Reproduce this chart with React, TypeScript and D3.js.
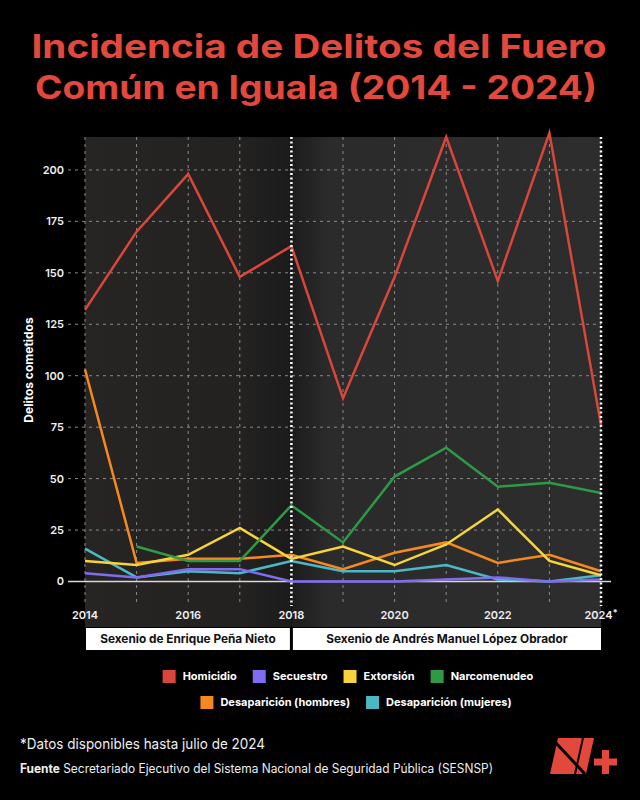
import * as d3 from 'd3';

// años y series
const years = [2014, 2015, 2016, 2017, 2018, 2019, 2020, 2021, 2022, 2023, 2024];
const homicidio = [132, 170, 198, 148, 163, 89, 148, 216, 146, 218, 76];
const secuestro = [4, 2, 6, 6, 0, 0, 0, 1, 2, 0, 1];
const extorsion = [10, 8, 13, 26, 11, 17, 8, 18, 35, 10, 3];
const narcomenudeo = [null, 17, 10, 10, 37, 19, 51, 65, 46, 48, 43];
const desapHombres = [103, 9, 11, 11, 13, 6, 14, 19, 9, 13, 5];
const desapMujeres = [16, 2, 5, 4, 10, 5, 5, 8, 1, 0, 3];

const seriesNames = ['Homicidio', 'Secuestro', 'Extorsión', 'Narcomenudeo', 'Desaparición (hombres)', 'Desaparición (mujeres)'];
const seriesColors = ['#d9473a', '#7f6cf0', '#f7d43a', '#2f9a46', '#f5891f', '#4bb8c6'];
const seriesValues = [homicidio, secuestro, extorsion, narcomenudeo, desapHombres, desapMujeres];
const drawOrder = [5, 1, 4, 2, 3, 0];

const yTicks = [0, 25, 50, 75, 100, 125, 150, 175, 200];
const xTickYears = [2014, 2016, 2018, 2020, 2022, 2024];
const xTickLabels = ['2014', '2016', '2018', '2020', '2022', '2024*'];
const sexenios = [
    { label: 'Sexenio de Enrique Peña Nieto', from: 2014, to: 2018 },
    { label: 'Sexenio de Andrés Manuel López Obrador', from: 2018, to: 2024 }
];
const legendRows = [[0, 1, 2, 3], [4, 5]];

const W = 640;
const H = 800;
const FONT = 'Inter, "Noto Sans", sans-serif';

function measure(text: string, font: string) {
    const ctx = document.createElement('canvas').getContext('2d');
    if (!ctx) return text.length * 6.5;
    ctx.font = font;
    return ctx.measureText(text).width;
}

export default function App() {
    const x = d3.scaleLinear().domain([2014, 2024]).range([85, 601]);
    const y = d3.scaleLinear().domain([0, 216]).range([581.5, 137]);

    const line = d3.line<number | null>()
        .defined(v => v != null)
        .x((_, i) => x(years[i]))
        .y(v => y(v as number));

    const plotTop = y(216);
    const plotBottom = 627;
    const gridBottom = 606;

    // leyenda: medir textos para espaciar como en el original
    const sq = 13;
    const gap = 7;
    const itemGap = 16;
    const legendFont = `700 11px ${FONT}`;
    const legendCenters = [348, 356];
    const legendY = [676.5, 702.5];
    const legendItems = legendRows.map((row, r) => {
        const widths = row.map(i => sq + gap + measure(seriesNames[i], legendFont));
        const total = d3.sum(widths) + itemGap * (row.length - 1);
        let cx = legendCenters[r] - total / 2;
        return row.map((i, k) => {
            const item = { i, x: cx, y: legendY[r] };
            cx += widths[k] + itemGap;
            return item;
        });
    }).flat();

    return (
        <svg width={W} height={H} style={{ position: 'absolute', left: 0, top: 0, background: '#000', fontFamily: FONT }}>
            <defs>
                <linearGradient id="bgLeft" x1="0" x2="1" y1="0" y2="0">
                    <stop offset="0" stopColor="#272523" />
                    <stop offset="0.75" stopColor="#232221" />
                    <stop offset="1" stopColor="#1b1b1b" />
                </linearGradient>
                <linearGradient id="bgRight" x1="0" x2="1" y1="0" y2="0">
                    <stop offset="0" stopColor="#1c1c1c" />
                    <stop offset="0.12" stopColor="#2b2b2b" />
                    <stop offset="1" stopColor="#2d2d2d" />
                </linearGradient>
            </defs>
            <rect width={W} height={H} fill="#000" />

            {/* título */}
            <text x={319} y={58} textAnchor="middle" fill="#e2483b" fontSize={33} fontWeight={700}
                textLength={575} lengthAdjust="spacingAndGlyphs">Incidencia de Delitos del Fuero</text>
            <text x={316} y={99} textAnchor="middle" fill="#e2483b" fontSize={33} fontWeight={700}
                textLength={562} lengthAdjust="spacingAndGlyphs">Común en Iguala (2014 - 2024)</text>

            {/* fondo del área de trazado */}
            <rect x={x(2014)} y={plotTop} width={x(2018) - x(2014)} height={plotBottom - plotTop} fill="url(#bgLeft)" />
            <rect x={x(2018)} y={plotTop} width={x(2024) - x(2018)} height={plotBottom - plotTop} fill="url(#bgRight)" />

            {/* rejilla horizontal */}
            {yTicks.filter(t => t > 0).map(t => (
                <line key={'h' + t} x1={68} x2={x(2024)} y1={y(t)} y2={y(t)}
                    stroke="#8a8a8a" strokeWidth={1} strokeDasharray="3,4" />
            ))}
            {/* rejilla vertical */}
            {years.filter(yr => yr !== 2018 && yr !== 2024).map(yr => (
                <line key={'v' + yr} x1={x(yr)} x2={x(yr)} y1={plotTop} y2={gridBottom}
                    stroke="#8a8a8a" strokeWidth={1} strokeDasharray="3,4" />
            ))}

            {/* línea base */}
            <line x1={68} x2={611} y1={y(0)} y2={y(0)} stroke="#d8d8d8" strokeWidth={1.5} />

            {/* etiquetas del eje y */}
            {yTicks.map(t => (
                <text key={'yt' + t} x={64} y={y(t)} dy="0.36em" textAnchor="end" fill="#f0f0f0"
                    fontSize={11} fontWeight={600}>{t}</text>
            ))}
            <text transform={`translate(33,370) rotate(-90)`} textAnchor="middle" fill="#fff"
                fontSize={12} fontWeight={700}>Delitos cometidos</text>

            {/* etiquetas del eje x */}
            {xTickYears.map((yr, i) => (
                <text key={'xt' + yr} x={x(yr)} y={619} textAnchor="middle" fill="#f0f0f0"
                    fontSize={11} fontWeight={600}>
                    {xTickLabels[i].replace('*', '')}
                    {xTickLabels[i].endsWith('*') ? <tspan dy={-3} fontSize={9}>*</tspan> : null}
                </text>
            ))}

            {/* series */}
            {drawOrder.map(i => (
                <path key={seriesNames[i]} d={line(seriesValues[i]) || ''} fill="none"
                    stroke={seriesColors[i]} strokeWidth={2.5} />
            ))}

            {/* divisiones de sexenio */}
            {[2018, 2024].map(yr => (
                <line key={'d' + yr} x1={x(yr)} x2={x(yr)} y1={plotTop} y2={gridBottom}
                    stroke="#fff" strokeWidth={2.5} strokeDasharray="2,2.5" />
            ))}

            {/* cajas de sexenio */}
            {sexenios.map((s, i) => {
                const x0 = x(s.from) + (i === 0 ? 1 : 1.5);
                const x1 = x(s.to) - (i === 0 ? 1.5 : 0);
                return (
                    <g key={s.label}>
                        <rect x={x0} y={628} width={x1 - x0} height={22} fill="#fff" />
                        <text x={(x0 + x1) / 2} y={639} dy="0.36em" textAnchor="middle" fill="#111"
                            fontSize={11.8} fontWeight={700}>{s.label}</text>
                    </g>
                );
            })}

            {/* leyenda */}
            {legendItems.map(it => (
                <g key={'lg' + it.i} transform={`translate(${it.x},${it.y})`}>
                    <rect x={0} y={-sq / 2} width={sq} height={sq} fill={seriesColors[it.i]} />
                    <text x={sq + gap} y={0} dy="0.36em" fill="#fff" fontSize={11} fontWeight={700}>
                        {seriesNames[it.i]}
                    </text>
                </g>
            ))}

            {/* notas */}
            <text x={20} y={749} fill="#eee" fontSize={14.5} textLength={245} lengthAdjust="spacingAndGlyphs">
                *Datos disponibles hasta julio de 2024
            </text>
            <text x={20} y={773} fill="#eee" fontSize={12.5} textLength={473} lengthAdjust="spacingAndGlyphs">
                <tspan fontWeight={700}>Fuente</tspan> Secretariado Ejecutivo del Sistema Nacional de Seguridad Pública (SESNSP)
            </text>

            {/* logo N+ */}
            <g fill="#e2483b">
                <path d="M558,738 L594,738 L586,774 L550,774 Z" />
                <rect x={602} y={750} width={7} height={24} />
                <rect x={594} y={758.5} width={23} height={7} />
            </g>
            <path d="M556,743 L585,774" stroke="#000" strokeWidth={3} />
            <path d="M583,738 L575,774" stroke="#000" strokeWidth={2} />
        </svg>
    );
}
